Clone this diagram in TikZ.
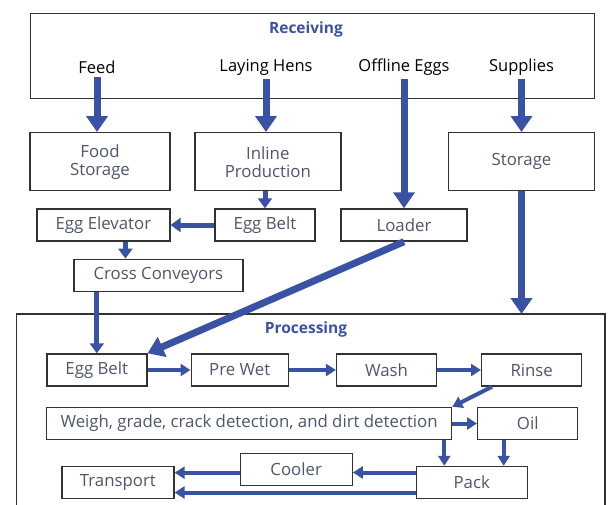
\documentclass[tikz,border=0pt]{standalone}
\usepackage{fontspec}
\setmainfont{Open Sans}
\usetikzlibrary{arrows.meta, positioning}
\definecolor{flowblue}{RGB}{58,82,164}
\definecolor{boxtext}{RGB}{78,86,108}
\definecolor{boxline}{RGB}{50,50,50}
\tikzset{x=1pt, y=-1pt, node distance = 43pt,
  box/.style = {draw=boxline, line width=1.4pt, fill=white, text=boxtext,
    align=center, inner sep=0pt, minimum height=32pt,
    font=\fontsize{16.8}{18}\selectfont},
  frame/.style = {draw=boxline, line width=1.4pt},
  title/.style = {text=flowblue, font=\bfseries\fontsize{15.5}{18}\selectfont},
  source/.style = {font=\fontsize{16.5}{18}\selectfont},
  thick arrow/.style = {draw=flowblue, line width=7pt, -{Triangle[width=21pt,length=16pt]}},
  mid arrow/.style = {draw=flowblue, line width=5pt, -{Triangle[width=14pt,length=10pt]}},
  thin arrow/.style = {draw=flowblue, line width=4pt, -{Triangle[width=12pt,length=10pt]}},
}

\begin{document}
\begin{tikzpicture}
    \useasboundingbox (0,0) rectangle (608,504);

    % receiving area
    \node[frame, minimum width=564pt, minimum height=85pt] (recv) at (312.3,55.8) {};
    \node[title] (recvtitle) at (306,29) {Receiving};
    \node[source] (feed) at (97,67) {Feed};
    \node[source] (hens) at (266,67) {Laying Hens};
    \node[source] (offline) at (404,67) {Offline Eggs};
    \node[source] (supplies) at (521.5,67) {Supplies};

    \node[box, minimum width=140pt, minimum height=58pt] (food) at (100,161.7) {Food\\Storage};
    \node[box, minimum width=146pt, minimum height=58pt] (inline) at (267.8,161.7) {Inline\\Production};
    \node[box, minimum width=146pt, minimum height=58pt] (storage) at (521.5,161.7) {Storage};

    \node[box, minimum width=133pt] (elevator) at (103.4,225) {Egg Elevator};
    \node[box, minimum width=100pt] (beltA) at (265,225) {Egg Belt};
    \node[box, minimum width=126pt] (loader) at (404,225) {Loader};
    \node[box, minimum width=169pt] (cross) at (158.4,275.3) {Cross Conveyors};

    % processing area, open at the bottom
    \draw[frame] (16.3,510) |- (605,314) -- (605,510);
    \coordinate (proctop) at (521.5,314);
    \node[title] (proctitle) at (306,329) {Processing};

    \node[box, minimum width=100pt] (beltB) at (96.8,370) {Egg Belt};
    \node[box, minimum width=97pt, right=43pt of beltB] (prewet) {Pre Wet};
    \node[box, minimum width=100pt, right=47pt of prewet] (wash) {Wash};
    \node[box, minimum width=100pt, right=43.7pt of wash] (rinse) {Rinse};

    \node[box, minimum width=405pt] (weigh) at (249.1,423.5) {Weigh, grade, crack detection, and dirt detection};
    \node[box, minimum width=100pt] (oil) at (527.7,423.5) {Oil};

    \node[box, minimum width=112pt] (cooler) at (296.2,469.2) {Cooler};
    \node[box, minimum width=112pt] (transport) at (117.9,482.5) {Transport};
    \node[box, minimum width=111pt] (pack) at (471.7,482.5) {Pack};

    % flows out of receiving
    \draw[thick arrow] (feed.south) -- (feed.south |- food.north);
    \draw[thick arrow] (hens.south) -- (hens.south |- inline.north);
    \draw[thick arrow] (offline.south) -- (offline.south |- loader.north);
    \draw[thick arrow] (supplies.south) -- (supplies.south |- storage.north);

    \draw[mid arrow] (beltA.north |- inline.south) -- (beltA.north);
    \draw[mid arrow] (beltA.west) -- (elevator.east);
    \draw[mid arrow] ([xshift=22pt]elevator.south) -- ([xshift=22pt]elevator.south |- cross.north);
    \draw[mid arrow] (beltB.north |- cross.south) -- (beltB.north);
    \draw[thick arrow] (loader.south) -- (beltB.north east);
    \draw[thick arrow] (storage.south) -- (proctop);

    % processing line
    \draw[thin arrow] (beltB) -- (prewet);
    \draw[thin arrow] (prewet) -- (wash);
    \draw[thin arrow] (wash) -- (rinse);
    \draw[thin arrow] ([xshift=11pt]rinse.south west) -- (weigh.north east);
    \draw[thin arrow] (weigh.east) -- (oil.west);
    \draw[thin arrow] ([xshift=-8pt]weigh.south east) -- ([xshift=-8pt]weigh.south east |- pack.north);
    \draw[thin arrow] ([xshift=-24pt]oil.south) -- ([xshift=-24pt]oil.south |- pack.north);
    \draw[thin arrow] ([yshift=10pt]pack.west) -- ([yshift=10pt]pack.west -| cooler.east);
    \draw[thin arrow] ([yshift=-3.5pt]cooler.west) -- ([yshift=-3.5pt]cooler.west -| transport.east);
    \draw[thin arrow] ([yshift=-10pt]pack.west) -- ([yshift=-10pt]pack.west -| transport.east);
\end{tikzpicture}
\end{document}
